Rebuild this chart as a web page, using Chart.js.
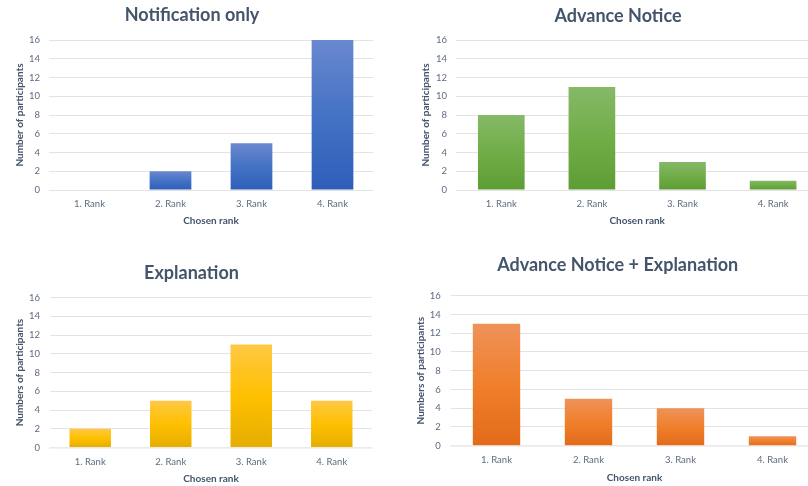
<!DOCTYPE html>
<html>
<head>
<meta charset="utf-8">
<script src="https://cdn.jsdelivr.net/npm/chart.js@4/dist/chart.umd.min.js"></script>
<style>
  html, body { margin: 0; padding: 0; background: #ffffff; overflow: hidden; width: 808px; height: 486px; }
  .panel { position: absolute; }
  canvas { display: block; }
</style>
</head>
<body>
<div class="panel" style="left:0px;top:0px"><canvas id="c1" width="404" height="240"></canvas></div>
<div class="panel" style="left:404px;top:0px"><canvas id="c2" width="430" height="240"></canvas></div>
<div class="panel" style="left:0px;top:250px"><canvas id="c3" width="404" height="236"></canvas></div>
<div class="panel" style="left:404px;top:250px"><canvas id="c4" width="430" height="236"></canvas></div>
<script>
// Categories and counts per condition
const rankLabels = ['1. Rank', '2. Rank', '3. Rank', '4. Rank'];
const notificationOnly = [0, 2, 5, 16];
const advanceNotice = [8, 11, 3, 1];
const explanation = [2, 5, 11, 5];
const advanceNoticeExplanation = [13, 5, 4, 1];
const yMin = 0, yMax = 16, yStep = 2;

const titleColor = '#44546A';
const tickColor = '#5C6B80';
const gridColor = '#E3E3E3';
const FONT = 'Lato';

// Vertical light-to-dark fill, computed per bar from its own top and base
function barGradient(stops) {
  return (ctx) => {
    const chart = ctx.chart;
    const y = chart.scales && chart.scales.y;
    if (!y || ctx.type !== 'data' || !ctx.parsed) return stops[1];
    const top = y.getPixelForValue(ctx.parsed.y);
    const base = y.getPixelForValue(0);
    if (!(base - top > 0.5)) return stops[1];
    const g = chart.ctx.createLinearGradient(0, top, 0, base);
    g.addColorStop(0, stops[0]);
    g.addColorStop(0.5, stops[1]);
    g.addColorStop(1, stops[2]);
    return g;
  };
}

function makeChart(id, p) {
  new Chart(document.getElementById(id), {
    type: 'bar',
    data: {
      labels: rankLabels,
      datasets: [{
        data: p.values,
        backgroundColor: barGradient(p.colors),
        borderWidth: 0,
        categoryPercentage: 0.515,
        barPercentage: 1
      }]
    },
    options: {
      responsive: false,
      animation: false,
      events: [],
      layout: { padding: { left: p.pl, right: p.pr, top: 0, bottom: 0 } },
      plugins: {
        legend: { display: false },
        tooltip: { enabled: false },
        title: {
          display: true,
          text: p.title,
          color: titleColor,
          font: { family: FONT, size: 18, weight: 'bold' },
          padding: { top: p.tTop, bottom: p.tBottom }
        }
      },
      scales: {
        x: {
          z: p.zeroOverlay ? 1 : 0,
          grid: { display: false, drawTicks: false },
          border: p.zeroOverlay
            ? { display: true, color: 'rgba(236,236,236,0.75)', width: 2 }
            : { display: false },
          ticks: { color: tickColor, font: { family: FONT, size: 9.5 }, padding: p.xTickPad, maxRotation: 0 },
          title: {
            display: true,
            text: 'Chosen rank',
            color: titleColor,
            font: { family: FONT, size: 10, weight: 'bold' },
            padding: { top: 0, bottom: p.xTitlePad }
          },
          afterFit: (s) => { s.height = p.xH; }
        },
        y: {
          min: yMin,
          max: yMax,
          grid: { color: gridColor, lineWidth: 1, drawTicks: false },
          border: { display: false },
          ticks: { stepSize: yStep, color: tickColor, font: { family: FONT, size: 9.5 }, padding: p.yTickPad },
          title: {
            display: true,
            text: p.yTitle,
            color: titleColor,
            font: { family: FONT, size: 10, weight: 'bold' },
            padding: { top: p.yTitlePad, bottom: 0 }
          },
          afterFit: (s) => { s.width = p.yW; }
        }
      }
    }
  });
}

const blue = ['#6A88CF', '#4472C4', '#2F5EBA'];
const green = ['#86B968', '#70AD47', '#5E9D36'];
const yellow = ['#FFC845', '#FFC000', '#E4AD00'];
const orange = ['#EF925A', '#F07F2A', '#E26B1A'];

makeChart('c1', {
  title: 'Notification only', yTitle: 'Number of participants', values: notificationOnly, colors: blue,
  pl: 11, pr: 31, yW: 38, yTickPad: 9, yTitlePad: 2.5,
  tTop: 4.7, tBottom: 13.7, xH: 50, xTickPad: 8, xTitlePad: 13, zeroOverlay: false
});
makeChart('c2', {
  title: 'Advance Notice', yTitle: 'Number of participants', values: advanceNotice, colors: green,
  pl: 13.6, pr: 15.6, yW: 38.4, yTickPad: 9, yTitlePad: 2.1,
  tTop: 5.2, tBottom: 13.2, xH: 50, xTickPad: 8, xTitlePad: 13, zeroOverlay: false
});
makeChart('c3', {
  title: 'Explanation', yTitle: 'Numbers of participants', values: explanation, colors: yellow,
  pl: 11, pr: 32, yW: 39, yTickPad: 10, yTitlePad: 3,
  tTop: 12.5, tBottom: 13.4, xH: 38.5, xTickPad: 8.5, xTitlePad: 1, zeroOverlay: true
});
makeChart('c4', {
  title: 'Advance Notice + Explanation', yTitle: 'Numbers of participants', values: advanceNoticeExplanation, colors: orange,
  pl: 12.9, pr: 15.5, yW: 33.6, yTickPad: 9.8, yTitlePad: -2.2,
  tTop: 4.7, tBottom: 19.4, xH: 40.3, xTickPad: 8.8, xTitlePad: 2.5, zeroOverlay: true
});
</script>
</body>
</html>
